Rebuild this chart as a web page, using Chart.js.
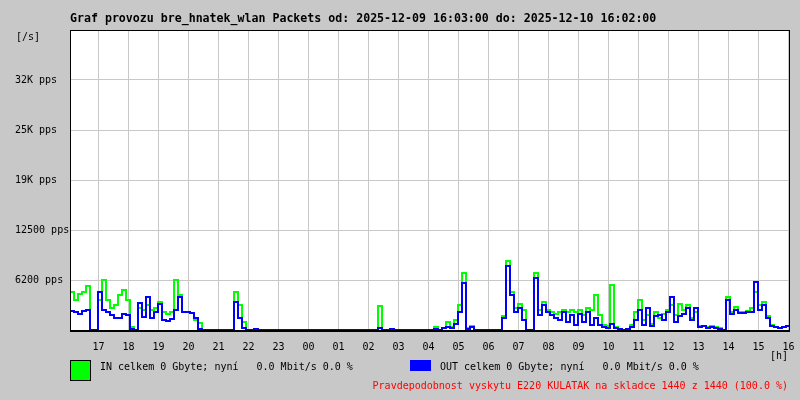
<!DOCTYPE html>
<html>
<head>
<meta charset="utf-8">
<script src="https://cdn.jsdelivr.net/npm/chart.js@4/dist/chart.umd.min.js"></script>
<style>
  html, body { margin: 0; padding: 0; background: #c8c8c8; }
  #wrap { position: relative; width: 800px; height: 400px; background: #c8c8c8; overflow: hidden; }
  #c { position: absolute; left: 0; top: 0; }
  .t { position: absolute; font-family: "DejaVu Sans Mono", "Liberation Mono", monospace; font-size: 10px; line-height: 12px; color: #000; white-space: pre; }
  #title { font-weight: bold; font-size: 11.6px; left: 70px; top: 12px; }
  .sw { position: absolute; }
</style>
</head>
<body>
<div id="wrap">
  <canvas id="c" width="800" height="400"></canvas>
  <div class="t" id="title">Graf provozu bre_hnatek_wlan Packets od: 2025-12-09 16:03:00 do: 2025-12-10 16:02:00</div>
  <div class="t" style="left:16px; top:31px;">[/s]</div>
  <div class="t" style="left:770px; top:350px;">[h]</div>
  <div class="sw" style="left:70px; top:360px; width:19px; height:19px; background:#00ff00; border:1px solid #000;"></div>
  <div class="t" style="left:100px; top:361px;">IN celkem 0 Gbyte; nyní   0.0 Mbit/s 0.0 %</div>
  <div class="sw" style="left:410px; top:360px; width:21px; height:11px; background:#0000ff;"></div>
  <div class="t" style="left:440px; top:361px;">OUT celkem 0 Gbyte; nyní   0.0 Mbit/s 0.0 %</div>
  <div class="t" style="right:12px; top:380px; color:#ff0000;">Pravdepodobnost vyskytu E220 KULATAK na skladce 1440 z 1440 (100.0 %)</div>
</div>
<script>
// Time axis: hours since 2025-12-09 00:00 (start 16:03, 8-minute samples)
const startHour = 16.05;
const endHour = 40.05;
const sampleStepHours = 8 / 60;

// Hour tick positions and labels
const hourTicks = [17,18,19,20,21,22,23,24,25,26,27,28,29,30,31,32,33,34,35,36,37,38,39,40];
const hourLabels = ['17','18','19','20','21','22','23','00','01','02','03','04','05','06','07','08','09','10','11','12','13','14','15','16'];

// Y axis ticks (pps) and labels
const yMax = 37500;
const yStep = 6250;
const yTickLabels = ['', '6200 pps', '12500 pps', '19K pps', '25K pps', '32K pps', ''];

// IN packets (green), pps
const inValues = [
  4750,3750,4500,4750,5500,0,0,3750,6250,3750,
  2750,3125,4375,5000,3750,375,0,2750,2500,3125,
  2500,2750,3500,2250,2000,2250,6250,4375,2250,2250,
  2125,1250,875,0,0,0,0,0,0,0,
  0,4750,3125,1000,0,0,125,0,0,0,
  0,0,0,0,0,0,0,0,0,0,
  0,0,0,0,0,0,0,0,0,0,
  0,0,0,0,0,0,0,3000,0,0,
  125,0,0,0,0,0,0,0,0,0,
  0,375,0,250,1000,375,1250,3125,7125,250,
  500,0,0,0,0,0,0,0,1750,8625,
  4750,2750,3250,2500,0,0,7125,2500,3500,2500,
  2250,2000,2250,2500,2250,2500,2250,2500,1875,2750,
  2500,4375,1875,625,500,5625,375,125,0,125,
  625,2250,3750,1250,1875,750,2250,1500,2000,2500,
  3125,1875,3250,2500,3125,1500,2250,500,500,375,
  500,375,250,0,4125,2250,2875,2250,2250,2375,
  2750,4750,3125,3500,1750,625,375,250,375,500,500
];

// OUT packets (blue), pps
const outValues = [
  2375,2250,2000,2375,2500,0,0,4750,2500,2250,
  1875,1500,1500,2000,1875,125,0,3375,1625,4125,
  1500,2250,3250,1250,1125,1375,2500,4125,2250,2250,
  2125,1500,125,0,0,0,0,0,0,0,
  0,3500,1500,250,0,0,125,0,0,0,
  0,0,0,0,0,0,0,0,0,0,
  0,0,0,0,0,0,0,0,0,0,
  0,0,0,0,0,0,0,250,0,0,
  125,0,0,0,0,0,0,0,0,0,
  0,125,0,250,375,250,750,2250,5875,125,
  375,0,0,0,0,0,0,0,1500,8000,
  4375,2250,2750,1250,0,0,6500,1875,3125,2250,
  1875,1500,1250,2250,1000,1875,625,2000,1000,2250,
  625,1500,625,375,250,750,250,125,0,125,
  375,1250,2500,625,2750,500,1750,1875,1250,2250,
  4125,1000,1750,2000,2750,1250,2750,375,500,250,
  375,250,125,0,3750,2000,2500,2125,2125,2250,
  2250,6000,2500,3125,1500,500,375,250,375,500,500
];

const toPoints = arr => arr.map((v, i) => ({ x: startHour + i * sampleStepHours, y: v }));

const bgPlugin = {
  id: 'bg',
  beforeDraw(chart) {
    const { ctx, chartArea: a } = chart;
    ctx.save();
    ctx.fillStyle = '#c8c8c8';
    ctx.fillRect(0, 0, chart.width, chart.height);
    ctx.fillStyle = '#ffffff';
    ctx.fillRect(a.left, a.top, a.right - a.left, a.bottom - a.top);
    ctx.restore();
  },
  afterDatasetsDraw(chart) {
    const { ctx, chartArea: a } = chart;
    ctx.save();
    ctx.strokeStyle = '#000000';
    ctx.lineWidth = 1;
    ctx.strokeRect(a.left + 0.5, a.top + 0.5, a.right - a.left - 1, a.bottom - a.top);
    ctx.lineWidth = 2;
    ctx.beginPath();
    ctx.moveTo(a.left, a.bottom + 1);
    ctx.lineTo(a.right, a.bottom + 1);
    ctx.stroke();
    ctx.restore();
  }
};

new Chart(document.getElementById('c'), {
  type: 'line',
  data: {
    datasets: [
      { label: 'OUT', data: toPoints(outValues), borderColor: '#0000ff', borderWidth: 2, pointRadius: 0, stepped: true, fill: false, order: 0 },
      { label: 'IN', data: toPoints(inValues), borderColor: '#00ff00', borderWidth: 2, pointRadius: 0, stepped: true, fill: false, order: 1 }
    ]
  },
  options: {
    responsive: false,
    animation: false,
    devicePixelRatio: 1,
    layout: { padding: { left: 15, top: 30, right: 10, bottom: 40 } },
    plugins: { legend: { display: false }, tooltip: { enabled: false }, title: { display: false } },
    scales: {
      x: {
        type: 'linear',
        min: startHour,
        max: endHour,
        afterBuildTicks: s => { s.ticks = hourTicks.map(v => ({ value: v })); },
        afterFit: s => { s.height = 30; s.paddingLeft = 0; s.paddingRight = 0; },
        ticks: {
          autoSkip: false,
          maxRotation: 0,
          padding: 11,
          color: '#000',
          font: { family: 'DejaVu Sans Mono', size: 10 },
          callback: (v, i) => hourLabels[i]
        },
        grid: { color: '#c8c8c8', lineWidth: 1, drawTicks: false },
        border: { display: false }
      },
      y: {
        min: 0,
        max: yMax,
        afterBuildTicks: s => { s.ticks = yTickLabels.map((l, i) => ({ value: i * yStep })); },
        afterFit: s => { s.width = 55; s.paddingTop = 0; s.paddingBottom = 0; },
        ticks: {
          crossAlign: 'far',
          color: '#000',
          font: { family: 'DejaVu Sans Mono', size: 10 },
          callback: (v, i) => yTickLabels[i]
        },
        grid: { color: '#c8c8c8', lineWidth: 1, drawTicks: false },
        border: { display: false }
      }
    }
  },
  plugins: [bgPlugin]
});
</script>
</body>
</html>
